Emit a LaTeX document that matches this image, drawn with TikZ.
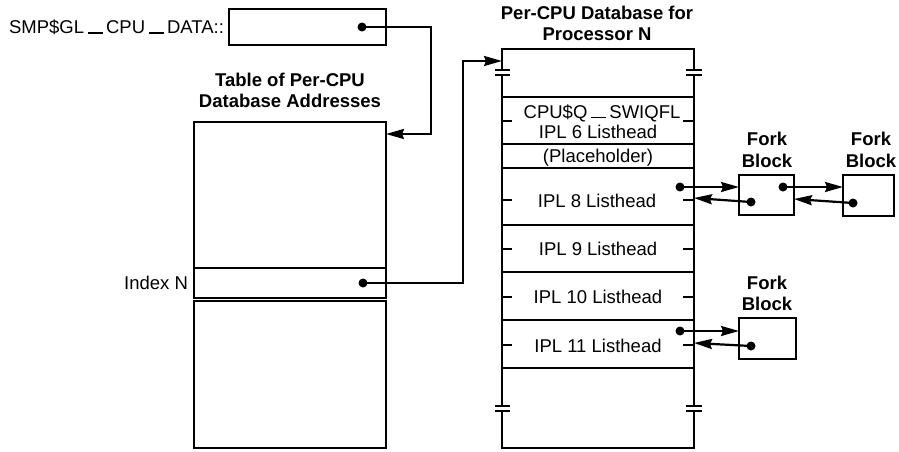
\documentclass[tikz,border=0pt]{standalone}
\usepackage{fontspec}
\setmainfont{Liberation Sans}
\usetikzlibrary{arrows.meta}
\newcommand\usbar{\kern4pt\rule[0pt]{15pt}{1.5pt}\kern3pt}
\begin{document}
\begin{tikzpicture}[x=1pt,y=-1pt,line width=2.2pt,
  box/.style={draw,rectangle,inner sep=0pt,outer sep=0pt,anchor=north west},
  txt/.style={inner sep=0pt,outer sep=0pt,anchor=base,font=\fontsize{18.5}{21}\selectfont},
  ttl/.style={inner sep=0pt,outer sep=0pt,anchor=base,font=\fontsize{18.5}{21}\selectfont\bfseries},
  dotn/.style={circle,fill,inner sep=0pt,outer sep=0pt,minimum size=9pt},
  arr/.style={-{Stealth[length=18pt,width=10pt,inset=2pt]}},
  brk/.style={line width=1.9pt},
  tk/.style={line width=1.9pt}]
\useasboundingbox (0,0) rectangle (899,451);

% ---- SMP$GL_CPU_DATA box
\node[txt,anchor=base east] (smplab) at (224,33.5) {SMP\$GL\usbar CPU\usbar DATA::};
\node[box,minimum width=157pt,minimum height=36pt] (smp) at (229,9) {};
\node[dotn] (smpdot) at (362,27) {};

% ---- Table of Per-CPU Database Addresses
\node[ttl] (tabt1) at (290,86.5) {Table of Per-CPU};
\node[ttl] (tabt2) at (290,107.5) {Database Addresses};
\node[box,minimum width=192pt,minimum height=146pt] (tabA) at (194,122) {};
\node[box,minimum width=192pt,minimum height=30pt] (idx) at (194,268) {};
\node[box,minimum width=192pt,minimum height=147pt] (tabB) at (194,301) {};
\node[txt,anchor=base east] (idxlab) at (188,289.5) {Index N};
\node[dotn] (idxdot) at (363,283) {};

% ---- Per-CPU Database for Processor N
\node[ttl] (dbt1) at (597,19.5) {Per-CPU Database for};
\node[ttl] (dbt2) at (597,40.5) {Processor N};
% top section with break marks
\draw (502,97) -- (502,75);
\draw (502,70) -- (502,49) -- (694,49) -- (694,70);
\draw (694,75) -- (694,97);
\draw[brk] (495,70) -- (510,70) (495,75) -- (510,75);
\draw[brk] (686,70) -- (702,70) (686,75) -- (702,75);
% rows
\node[box,minimum width=192pt,minimum height=47pt] (r1) at (502,97) {};
\node[box,minimum width=192pt,minimum height=24pt] (r2) at (502,144) {};
\node[box,minimum width=192pt,minimum height=57pt] (r3) at (502,168) {};
\node[box,minimum width=192pt,minimum height=47pt] (r4) at (502,225) {};
\node[box,minimum width=192pt,minimum height=48pt] (r5) at (502,272) {};
\node[box,minimum width=192pt,minimum height=48pt] (r6) at (502,320) {};
% bottom section with break marks
\draw (502,368) -- (502,406);
\draw (502,411) -- (502,448) -- (694,448) -- (694,411);
\draw (694,406) -- (694,368);
\draw[brk] (495,406) -- (510,406) (495,411) -- (510,411);
\draw[brk] (686,406) -- (702,406) (686,411) -- (702,411);
% row texts
\node[txt] (t1a) at (602,118) {CPU\$Q\usbar SWIQFL};
\node[txt] (t1b) at (598,138) {IPL 6 Listhead};
\node[txt] (t2) at (598,162.5) {(Placeholder)};
\node[txt] (t3) at (597,207) {IPL 8 Listhead};
\node[txt] (t4) at (598,255.5) {IPL 9 Listhead};
\node[txt] (t5) at (598,303.5) {IPL 10 Listhead};
\node[txt] (t6) at (598,352.5) {IPL 11 Listhead};
% ticks
\draw[tk] (502,121) -- (512,121) (683,121) -- (694,121);
\draw[tk] (502,200) -- (512,200) (683,200) -- (694,200);
\draw[tk] (502,249) -- (512,249) (683,249) -- (694,249);
\draw[tk] (502,297) -- (512,297) (683,297) -- (694,297);
\draw[tk] (502,345) -- (512,345) (683,345) -- (694,345);

% ---- Fork blocks
\node[ttl] (f1a) at (767,145.5) {Fork};
\node[ttl] (f1b) at (767,167.5) {Block};
\node[box,minimum width=55pt,minimum height=40pt] (fb1) at (739,175) {};
\node[ttl] (f2a) at (871,145.5) {Fork};
\node[ttl] (f2b) at (871,167.5) {Block};
\node[box,minimum width=51pt,minimum height=41pt] (fb2) at (843,175) {};
\node[ttl] (f3a) at (767,289.5) {Fork};
\node[ttl] (f3b) at (767,310.5) {Block};
\node[box,minimum width=57pt,minimum height=41pt] (fb3) at (739,318) {};

\node[dotn] (d8) at (680,187) {};
\node[dotn] (fb1a) at (751,202) {};
\node[dotn] (fb1b) at (783,187) {};
\node[dotn] (fb2a) at (853,203) {};
\node[dotn] (d11) at (680,331) {};
\node[dotn] (fb3a) at (751,346) {};

\coordinate (c1) at (431,134);
\coordinate (tabin) at (386,134);
\coordinate (c2) at (463,61);
\coordinate (dbin) at (502,61);
\coordinate (r3in) at (694,198);
\coordinate (fb1in) at (794,199);
\coordinate (r6in) at (694,343);

% ---- connectors
\draw[arr] (smpdot.center) -| (c1) -- (tabin);
\draw[arr] (idxdot.center) -| (c2) -- (dbin);
\draw[arr] (d8.center) -- (d8.center -| fb1.west);
\draw[arr] (fb1a.center) -- (r3in);
\draw[arr] (fb1b.center) -- (fb1b.center -| fb2.west);
\draw[arr] (fb2a.center) -- (fb1in);
\draw[arr] (d11.center) -- (d11.center -| fb3.west);
\draw[arr] (fb3a.center) -- (r6in);
\end{tikzpicture}
\end{document}
